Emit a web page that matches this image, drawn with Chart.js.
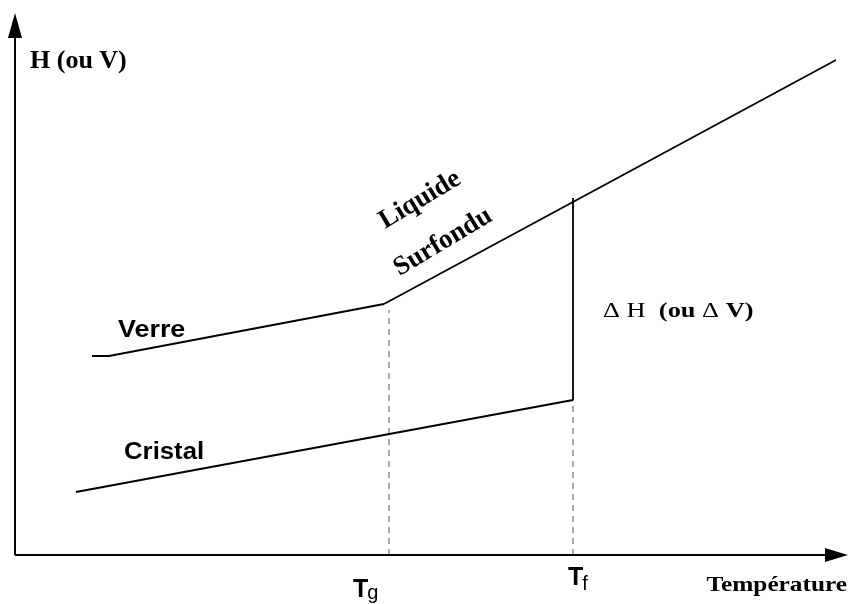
<!DOCTYPE html>
<html><head><meta charset="utf-8">
<script src="https://cdn.jsdelivr.net/npm/chart.js@4.4.0/dist/chart.umd.min.js"></script>
<style>html,body{margin:0;padding:0;background:#fff}#wrap{width:851px;height:604px}</style>
</head><body><div id="wrap"><canvas id="c" width="851" height="604"></canvas></div>
<script>
// Data (arbitrary units: temperature T, enthalpy H measured from origin)
const verreT = [77, 94, 369];
const verreH = [199, 199, 251];
const liquideT = [369, 821];
const liquideH = [251, 495];
const cristalT = [61, 558];
const cristalH = [63, 155];
const deltaT = [558, 558];
const deltaH = [155, 357];
const tgT = [374, 374];
const tgH = [0, 245];
const tfT = [558, 558];
const tfH = [0, 155];
const tickNames = ['T', 'T'];
const tickSubs = ['g', 'f'];
const tickValues = [374, 558];

const pts = (xs, ys) => xs.map((x, i) => ({x: x, y: ys[i]}));
const solid = (xs, ys) => ({data: pts(xs, ys), borderColor: '#000', borderWidth: 1.8, pointRadius: 0, showLine: true, fill: false, tension: 0});
const dashed = (xs, ys) => ({data: pts(xs, ys), borderColor: '#555', borderWidth: 1, borderDash: [6, 5], pointRadius: 0, showLine: true, fill: false, tension: 0});

const drawText = (ctx, t, x, y, font, opts) => {
  opts = opts || {};
  ctx.save();
  ctx.translate(x, y);
  ctx.scale(opts.sx || 1, 1);
  if (opts.rot) ctx.rotate(opts.rot);
  ctx.font = font;
  ctx.fillStyle = '#000';
  ctx.textAlign = opts.align || 'left';
  ctx.textBaseline = opts.base || 'alphabetic';
  ctx.fillText(t, 0, 0);
  ctx.restore();
};

const deco = {
  id: 'deco',
  afterDraw(chart) {
    const ctx = chart.ctx, a = chart.chartArea;
    const xs = chart.scales.x, ys = chart.scales.y;
    const X = v => xs.getPixelForValue(v), Y = v => ys.getPixelForValue(v);
    const ox = X(0), oy = Y(0);
    ctx.save();
    ctx.strokeStyle = '#000'; ctx.fillStyle = '#000'; ctx.lineWidth = 2;
    ctx.beginPath(); ctx.moveTo(ox, oy); ctx.lineTo(a.right - 20, oy); ctx.stroke();
    ctx.beginPath(); ctx.moveTo(ox, oy); ctx.lineTo(ox, a.top + 22); ctx.stroke();
    ctx.beginPath(); ctx.moveTo(a.right, oy); ctx.lineTo(a.right - 23, oy - 7); ctx.lineTo(a.right - 23, oy + 7); ctx.closePath(); ctx.fill();
    ctx.beginPath(); ctx.moveTo(ox, a.top); ctx.lineTo(ox - 7, a.top + 25); ctx.lineTo(ox + 7, a.top + 25); ctx.closePath(); ctx.fill();
    ctx.restore();

    const serifB = s => 'bold ' + s + 'px "Liberation Serif", "Times New Roman", serif';
    const serif = s => s + 'px "Liberation Serif", "Times New Roman", serif';
    const sansB = s => 'bold ' + s + 'px "Liberation Sans", Arial, sans-serif';
    const sans = s => s + 'px "Liberation Sans", Arial, sans-serif';

    drawText(ctx, 'H (ou V)', X(15), Y(494), serifB(26), {base: 'middle'});
    drawText(ctx, 'Température', X(832), Y(-36), serifB(22), {align: 'right', sx: 1.15});
    drawText(ctx, 'Verre', X(103), Y(218), sansB(23), {sx: 1.17});
    drawText(ctx, 'Cristal', X(109), Y(96), sansB(23), {sx: 1.12});
    drawText(ctx, 'Liquide', X(405), Y(355), serifB(27), {align: 'center', base: 'middle', rot: -0.54});
    drawText(ctx, 'Surfondu', X(428), Y(313), serifB(27), {align: 'center', base: 'middle', rot: -0.54});

    // ΔH (ou ΔV)
    let x = X(588); const yb = Y(238);
    const seg = (t, f) => { ctx.save(); ctx.font = f; ctx.fillStyle = '#000'; ctx.translate(x, yb); ctx.scale(1.2, 1); ctx.fillText(t, 0, 0); ctx.restore(); ctx.font = f; x += ctx.measureText(t).width * 1.2; };
    seg('\u0394', serif(22)); seg(' H  ', serif(22)); seg('(ou ', serifB(22)); seg('\u0394', serif(22)); seg(' V)', serifB(22));

    tickValues.forEach((v, i) => {
      const px = X(v);
      const off = i === 0 ? -36 : -5;
      const by = i === 0 ? 597 : 585;
      ctx.save();
      ctx.font = sansB(25); ctx.fillStyle = '#000';
      ctx.fillText(tickNames[i], px + off, by);
      const w = ctx.measureText(tickNames[i]).width;
      ctx.font = sans(20);
      ctx.fillText(tickSubs[i], px + off + w - 1, by + (i === 0 ? 2 : 5));
      ctx.restore();
    });
  }
};

new Chart(document.getElementById('c'), {
  type: 'scatter',
  data: {datasets: [
    solid(verreT, verreH), solid(liquideT, liquideH), solid(cristalT, cristalH), solid(deltaT, deltaH),
    dashed(tgT, tgH), dashed(tfT, tfH)
  ]},
  options: {
    responsive: false, animation: false, devicePixelRatio: 1,
    layout: {padding: {left: 15, right: 3, top: 13, bottom: 49}},
    plugins: {legend: {display: false}, tooltip: {enabled: false}},
    scales: {
      x: {type: 'linear', min: 0, max: 833, display: false},
      y: {type: 'linear', min: 0, max: 542, display: false}
    }
  },
  plugins: [deco]
});
</script></body></html>
